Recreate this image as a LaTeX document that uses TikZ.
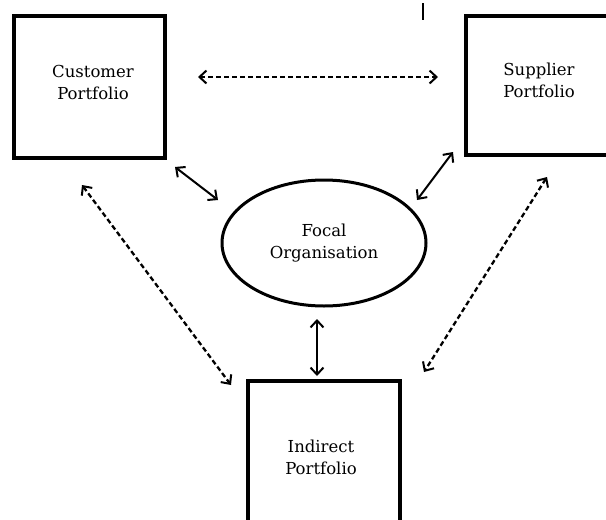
\documentclass[tikz,border=0pt]{standalone}
\usepackage{fontspec}
\newfontfamily\labelfont{DejaVu Serif}
\usetikzlibrary{shapes.geometric,arrows.meta}
\begin{document}
\begin{tikzpicture}[x=1pt,y=-1pt,
  portbox/.style={draw=black,line width=3.4pt,rectangle,inner sep=0pt},
  lbl/.style={align=center,font=\labelfont\fontsize{16.5}{22}\selectfont,inner sep=0pt},
  tipstyle/.style={{Straight Barb[length=7pt,width=13pt,line width=2pt]}-{Straight Barb[length=7pt,width=13pt,line width=2pt]}},
  solidlink/.style={tipstyle,line width=2pt},
  dashlink/.style={tipstyle,line width=2.3pt,dash pattern=on 5pt off 3pt}]
\useasboundingbox (0,0) rectangle (606,520);
\fill[white] (0,0) rectangle (606,520);
% boxes
\node[portbox,minimum width=151pt,minimum height=142pt] (cust) at (89.5,87) {};
\node[lbl] (custtxt) at (93,82) {Customer\\Portfolio};
\node[portbox,minimum width=150pt,minimum height=139pt] (supp) at (541,85.5) {};
\node[lbl] (supptxt) at (539,80.5) {Supplier\\Portfolio};
\node[portbox,minimum width=152pt,minimum height=160pt] (ind) at (324,461) {};
\node[lbl] (indtxt) at (321,457) {Indirect\\Portfolio};
\node[draw=black,line width=3pt,ellipse,minimum width=204pt,minimum height=126pt,inner sep=0pt,
      align=center,font=\labelfont\fontsize{16.5}{22}\selectfont] (focal) at (324,243) {Focal\\Organisation};
% tick
\coordinate (tka) at (423,3);
\coordinate (tkb) at (423,20);
\draw[line width=1.2pt] (tka) -- (tkb);
% endpoints
\coordinate (h1) at (198,77);
\coordinate (h2) at (438,77);
\coordinate (cf1) at (175,167);
\coordinate (cf2) at (218,200);
\coordinate (sf1) at (453,152);
\coordinate (sf2) at (417,200);
\coordinate (ci1) at (82,185);
\coordinate (ci2) at (231,385);
\coordinate (si1) at (547,177);
\coordinate (si2) at (424,372);
\coordinate (fi1) at (317,319);
\coordinate (fi2) at (317,376);
\draw[dashlink] (h1) -- (h2);
\draw[solidlink] (cf1) -- (cf2);
\draw[solidlink] (sf1) -- (sf2);
\draw[dashlink] (ci1) -- (ci2);
\draw[dashlink] (si1) -- (si2);
\draw[solidlink] (fi1) -- (fi2);
\end{tikzpicture}
\end{document}
